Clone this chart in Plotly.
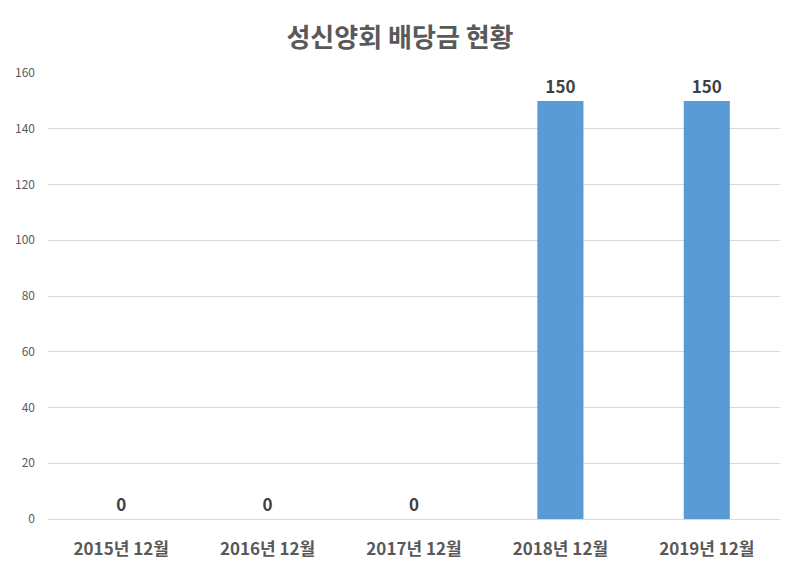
import plotly.graph_objects as go

categories = ["2015년 12월", "2016년 12월", "2017년 12월", "2018년 12월", "2019년 12월"]
values = [0, 0, 0, 150, 150]
y_ticks = [0, 20, 40, 60, 80, 100, 120, 140, 160]

FONT = "Noto Sans CJK KR, Malgun Gothic, sans-serif"

fig = go.Figure(go.Bar(
    x=categories, y=values,
    marker=dict(color="#5B9BD5", line=dict(width=0)),
    text=[str(v) for v in values],
    textposition="outside",
    textfont=dict(family=FONT, size=17, color="#404040", weight="bold"),
    cliponaxis=False,
    width=0.315,
))

fig.update_layout(
    width=800, height=578,
    margin=dict(l=48, r=20, t=73, b=59),
    paper_bgcolor="white", plot_bgcolor="white",
    title=dict(text="<b>성신양회 배당금 현황</b>", x=0.5, xanchor="center", y=0.934, yanchor="middle",
               font=dict(family=FONT, size=26, color="#595959")),
    showlegend=False,
    xaxis=dict(showgrid=False, showline=False, ticks="",
               ticklabelstandoff=18,
               tickfont=dict(family=FONT, size=17, color="#595959", weight="bold")),
    yaxis=dict(range=[0, 160], tickvals=y_ticks, showgrid=True, gridcolor="#D9D9D9", gridwidth=1,
               zeroline=True, zerolinecolor="#D9D9D9", zerolinewidth=1, showline=False, ticks="",
               ticklabelstandoff=12,
               tickfont=dict(family=FONT, size=12, color="#595959")),
)

fig.write_html("out.html")
